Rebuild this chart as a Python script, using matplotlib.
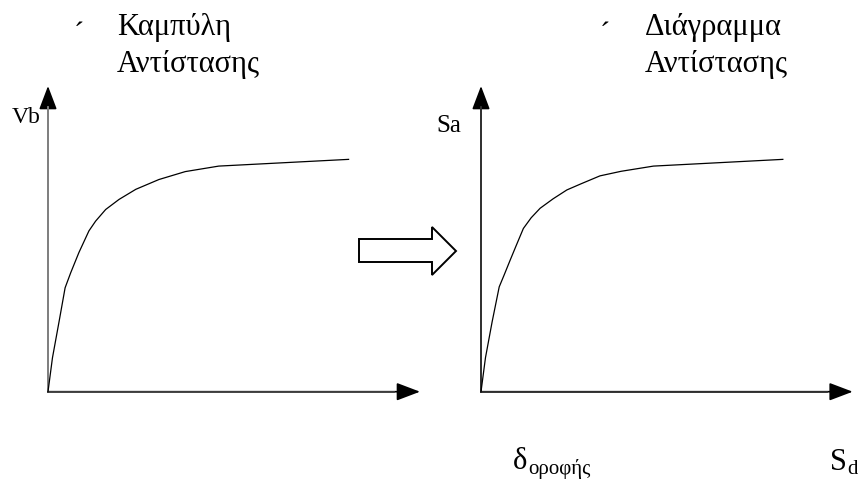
import matplotlib
matplotlib.use("Agg")
import matplotlib.pyplot as plt
from matplotlib.patches import Polygon

plt.rcParams['font.family'] = ['Liberation Serif', 'DejaVu Serif']

# ---- data (relative units, 0..100 of each axis) ----
roof_disp = [0, 1.2, 3.0, 4.6, 6.1, 8.3, 11.0, 12.8, 15.5, 19.1, 23.6, 29.8, 36.9, 45.9, 80.8]
base_shear = [0, 11.1, 23.1, 34.0, 38.9, 45.5, 52.6, 55.8, 59.6, 62.9, 66.2, 69.4, 72.0, 73.8, 76.0]

spec_disp = [0, 1.2, 3.0, 4.9, 6.2, 7.8, 9.4, 11.4, 13.5, 15.9, 19.4, 23.1, 26.9, 32.0, 37.7, 46.4, 81.2]
spec_acc = [0, 11.1, 22.9, 34.3, 38.1, 42.9, 47.6, 53.4, 56.9, 60.0, 63.1, 66.0, 68.0, 70.6, 72.1, 73.8, 76.0]

title_left = ["Καμπύλη", "Αντίστασης"]
title_right = ["Διάγραμμα", "Αντίστασης"]
ylabel_left = "Vb"
ylabel_right = "Sa"

W, H = 858, 480
fig = plt.figure(figsize=(W / 100, H / 100), dpi=100)
fig.patch.set_facecolor('white')

ov = fig.add_axes([0, 0, 1, 1])
ov.set_xlim(0, W)
ov.set_ylim(H, 0)
ov.axis('off')


def make_axes(x0, x1, ytop, yorig):
    ax = fig.add_axes([x0 / W, (H - yorig) / H, (x1 - x0) / W, (yorig - ytop) / H])
    ax.set_xlim(0, 100)
    ax.set_ylim(0, 100)
    ax.axis('off')
    ax.patch.set_alpha(0)
    return ax


def draw_axis_arrows(ax, ycolor, xcolor):
    ap = dict(arrowstyle='-|>,head_length=1.45,head_width=0.55', lw=1.2,
              shrinkA=0, shrinkB=0, mutation_scale=10)
    ax.annotate('', xy=(1, 0), xytext=(0, 0), xycoords='axes fraction',
                arrowprops=dict(ap, color='black'))
    ax.annotate('', xy=(0, 1), xytext=(0, 0), xycoords='axes fraction',
                arrowprops=dict(ap, color='black'))
    ax.plot([0, 0], [0, 0.93], color=ycolor, lw=1.3, transform=ax.transAxes,
            clip_on=False, zorder=3)
    ax.plot([0, 0.93], [0, 0], color=xcolor, lw=1.3, transform=ax.transAxes,
            clip_on=False, zorder=3)


ax1 = make_axes(48, 420, 86, 391.7)
draw_axis_arrows(ax1, '#8a8a8a', '#444444')
ax1.plot(roof_disp, base_shear, color='black', lw=0.9, clip_on=False, zorder=4)

ax2 = make_axes(481, 852.7, 86, 391.7)
draw_axis_arrows(ax2, '#333333', '#333333')
ax2.plot(spec_disp, spec_acc, color='black', lw=0.9, clip_on=False, zorder=4)

# block arrow between the diagrams
arrow_pts = [(359, 239), (432, 239), (432, 227), (456, 251), (432, 275), (432, 262), (359, 262)]
ov.add_patch(Polygon(arrow_pts, closed=True, facecolor='white', edgecolor='black', lw=1.4))

tfs = 22
# titles
ov.text(79, 43, '´', fontsize=tfs, ha='center', va='baseline')
ov.text(117, 35, title_left[0], fontsize=tfs, ha='left', va='baseline')
ov.text(117, 72, title_left[1], fontsize=tfs, ha='left', va='baseline')
ov.text(605, 43, '´', fontsize=tfs, ha='center', va='baseline')
ov.text(645, 35, title_right[0], fontsize=tfs, ha='left', va='baseline')
ov.text(645, 72, title_right[1], fontsize=tfs, ha='left', va='baseline')

# axis labels
ov.text(12, 123, ylabel_left, fontsize=17, ha='left', va='baseline')
ov.text(436, 132, ylabel_right, fontsize=18, ha='left', va='baseline')

ov.text(513, 469, 'δ', fontsize=22, ha='left', va='baseline')
ov.text(528, 474, 'οροφής', fontsize=15, ha='left', va='baseline')
ov.text(830, 470, 'S', fontsize=22, ha='left', va='baseline')
ov.text(847, 474, 'd', fontsize=15, ha='left', va='baseline')

fig.savefig('out.png', dpi=100, facecolor='white')
